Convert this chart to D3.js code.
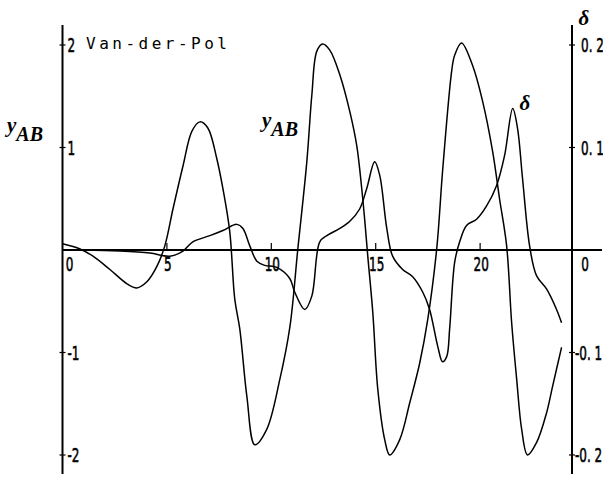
<!DOCTYPE html>
<html>
<head>
<script src="https://d3js.org/d3.v7.min.js"></script>
<style>
  body { margin: 0; background: #fff; }
  text { fill: #000; }
</style>
</head>
<body>
<div id="vis"></div>
<script>
// y_AB (Van-der-Pol)
const tAB = [0, 0.84, 1.46, 2.27, 3.09, 3.56, 4.04, 4.52, 4.9, 5.29, 5.77, 6.2, 6.58, 6.96, 7.39, 7.68, 8.01, 8.25, 8.49, 8.83, 9.21, 9.78, 10.41, 10.89, 11.27, 11.7, 11.94, 12.18, 12.46, 12.8, 13.28, 13.76, 14.09, 14.33, 14.47, 14.62, 14.86, 15.1, 15.43, 15.67, 16.15, 16.63, 17.11, 17.49, 17.92, 18.21, 18.64, 18.78, 19.11, 19.64, 20.12, 20.6, 20.93, 21.27, 21.51, 21.75, 21.99, 22.27, 22.7, 23.18, 23.47, 23.9];
const yAB = [0.06, 0.01, -0.06, -0.19, -0.33, -0.37, -0.31, -0.16, 0.04, 0.4, 0.82, 1.16, 1.25, 1.19, 0.89, 0.6, 0.18, -0.48, -0.77, -1.43, -1.9, -1.75, -1.26, -0.75, 0.01, 0.86, 1.51, 1.94, 2.01, 1.95, 1.71, 1.35, 1.02, 0.6, 0.3, -0.06, -0.61, -1.36, -1.85, -2.0, -1.85, -1.49, -1.1, -0.68, 0.01, 0.79, 1.75, 1.9, 2.02, 1.8, 1.45, 0.96, 0.5, 0.04, -0.71, -1.26, -1.75, -2.0, -1.88, -1.59, -1.33, -0.95];

// delta, right axis
const tD = [0, 1.08, 2.75, 4.19, 5.14, 5.77, 6.24, 7.06, 7.68, 8.35, 8.64, 8.97, 9.31, 9.69, 10.26, 10.89, 11.12, 11.6, 11.94, 12.32, 12.66, 13.28, 13.76, 14.23, 14.57, 14.95, 15.19, 15.53, 15.81, 16.29, 16.77, 17.25, 17.58, 17.97, 18.2, 18.4, 18.54, 18.78, 19.02, 19.35, 19.83, 20.31, 20.79, 21.17, 21.56, 21.79, 22.03, 22.37, 22.7, 23.18, 23.66, 23.9];
const dVal = [0, 0, -0.001, -0.003, -0.006, -0.001, 0.008, 0.014, 0.019, 0.025, 0.021, 0.004, -0.011, -0.015, -0.017, -0.028, -0.041, -0.058, -0.045, 0.008, 0.014, 0.021, 0.028, 0.04, 0.06, 0.086, 0.073, 0.021, -0.006, -0.019, -0.026, -0.041, -0.058, -0.094, -0.109, -0.104, -0.077, -0.012, 0.008, 0.024, 0.03, 0.043, 0.063, 0.092, 0.138, 0.119, 0.07, 0.004, -0.025, -0.038, -0.058, -0.071];

const xTicks = [5, 10, 15, 20];
const leftTicks = [2, 1, -1, -2];
const rightTicks = [0.2, 0.1, -0.1, -0.2];

const width = 603, height = 477;
const x = d3.scaleLinear().domain([0, 24.4]).range([62.5, 572]);
const yL = d3.scaleLinear().domain([-2, 2]).range([455, 45]);
const yR = d3.scaleLinear().domain([-0.2, 0.2]).range([455, 45]);

const svg = d3.select('#vis').append('svg')
  .attr('width', width).attr('height', height);

// narrow plotter-ish digits
function narrow(g, px, py, str, anchor) {
  g.append('text')
    .attr('transform', `translate(${px},${py}) scale(0.6,1)`)
    .attr('text-anchor', anchor || 'start')
    .style('font-family', 'DejaVu Sans, sans-serif')
    .style('font-size', '20px')
    .attr('stroke', '#000').attr('stroke-width', 0.6)
    .text(str);
}

// axes
svg.append('line').attr('x1', x(0)).attr('x2', x(0)).attr('y1', 25).attr('y2', 474)
  .attr('stroke', '#000').attr('stroke-width', 2);
svg.append('line').attr('x1', x(24.4)).attr('x2', x(24.4)).attr('y1', 25).attr('y2', 474)
  .attr('stroke', '#000').attr('stroke-width', 2);
svg.append('line').attr('x1', x(0)).attr('x2', 602).attr('y1', yL(0)).attr('y2', yL(0))
  .attr('stroke', '#000').attr('stroke-width', 2);

const tg = svg.append('g');
xTicks.forEach(v => {
  tg.append('line').attr('x1', x(v)).attr('x2', x(v)).attr('y1', yL(0) - 7).attr('y2', yL(0))
    .attr('stroke', '#000').attr('stroke-width', 1.2);
  narrow(tg, x(v) + 1, yL(0) + 21, v, 'middle');
});
narrow(tg, x(0) + 7, yL(0) + 21, '0', 'middle');
narrow(tg, x(24.4) + 13, yL(0) + 21, '0', 'middle');

leftTicks.forEach(v => {
  tg.append('line').attr('x1', x(0) - 3).attr('x2', x(0) + 3).attr('y1', yL(v)).attr('y2', yL(v))
    .attr('stroke', '#000').attr('stroke-width', 1.2);
  narrow(tg, x(0) + 5, yL(v) + 7, v < 0 ? '-' + Math.abs(v) : v);
});
rightTicks.forEach(v => {
  tg.append('line').attr('x1', x(24.4) - 3).attr('x2', x(24.4) + 3).attr('y1', yR(v)).attr('y2', yR(v))
    .attr('stroke', '#000').attr('stroke-width', 1.2);
  narrow(tg, x(24.4) + (v < 0 ? 3 : 9), yR(v) + 7, (v < 0 ? '-' : '') + Math.abs(v).toFixed(1).replace('.', '. '));
});

// curves
const line = d3.line().curve(d3.curveCatmullRom.alpha(0.5));
svg.append('path')
  .attr('d', line(tAB.map((t, i) => [x(t), yL(yAB[i])])))
  .attr('fill', 'none').attr('stroke', '#000').attr('stroke-width', 1.5);
svg.append('path')
  .attr('d', line(tD.map((t, i) => [x(t), yR(dVal[i])])))
  .attr('fill', 'none').attr('stroke', '#000').attr('stroke-width', 1.5);

// labels
svg.append('text').attr('x', 86).attr('y', 49)
  .style('font-family', 'DejaVu Sans Mono, monospace').style('font-size', '16px')
  .style('letter-spacing', '3.5px')
  .text('Van-der-Pol');

function yabLabel(px, py) {
  const t = svg.append('text').attr('x', px).attr('y', py)
    .style('font-family', 'Liberation Serif, serif').style('font-style', 'italic')
    .style('font-weight', 'bold').style('font-size', '21px');
  t.append('tspan').text('y');
  t.append('tspan').attr('dy', 9).style('font-size', '20px').text('AB');
}
yabLabel(7, 132);
yabLabel(262, 127);

function deltaLabel(px, py) {
  svg.append('text')
    .attr('x', px).attr('y', py)
    .attr('text-anchor', 'middle')
    .style('font-family', 'Liberation Serif, serif').style('font-style', 'italic')
    .style('font-weight', 'bold').style('font-size', '21px')
    .text('δ');
}
deltaLabel(525, 110);
deltaLabel(584, 25);
</script>
</body>
</html>
